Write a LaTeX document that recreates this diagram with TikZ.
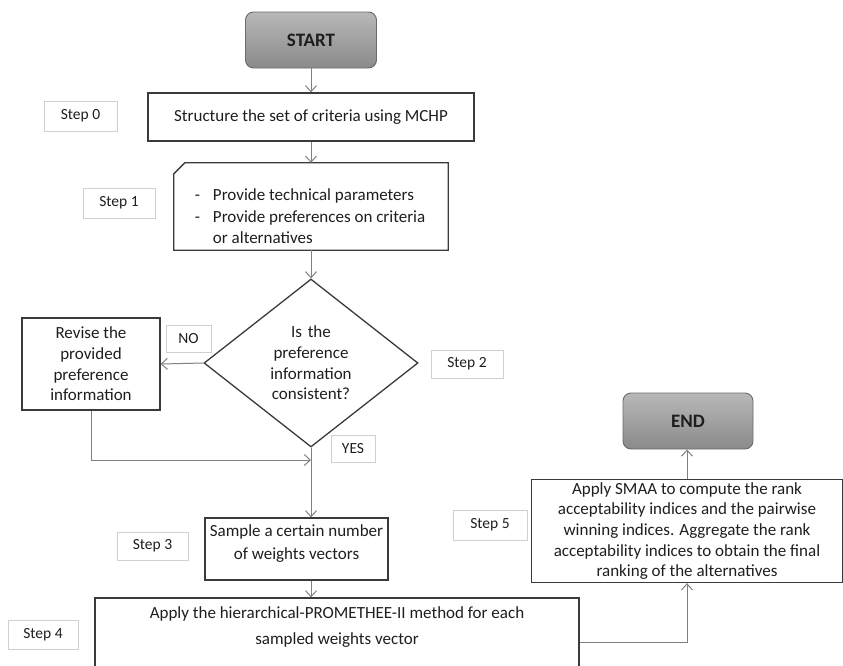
\documentclass[tikz,border=0pt]{standalone}
\usepackage{fontspec}
\setmainfont{Carlito}
\usetikzlibrary{shapes.geometric,arrows.meta}
\definecolor{boxline}{HTML}{3A3A3A}
\definecolor{arrowc}{HTML}{808080}
\definecolor{lblline}{HTML}{D0D0D0}
\definecolor{txt}{HTML}{1E1E1E}
\definecolor{termtop}{HTML}{B8B8B8}
\definecolor{termbot}{HTML}{8A8A8A}
\definecolor{termline}{HTML}{6A6A6A}
\begin{document}
\begin{tikzpicture}[x=1pt,y=-1pt,
  every node/.style={text=txt, font=\fontsize{17}{20.7}\selectfont},
  procbox/.style={draw=boxline, line width=1.3pt, rectangle, align=center, inner sep=0pt},
  outline/.style={draw=boxline, line width=1.3pt, line join=miter},
  lbl/.style={draw=lblline, line width=1pt, font=\fontsize{15.5}{19}\selectfont, inner sep=0pt},
  term/.style={draw=termline, line width=0.9pt, rounded corners=8pt, top color=termtop, bottom color=termbot, font=\fontsize{19}{23}\selectfont\bfseries, inner sep=0pt},
  flow/.style={draw=arrowc, line width=1pt, -{Straight Barb[length=6pt,width=11pt]}}]
\useasboundingbox (0,0) rectangle (843,665);

\node[term, minimum width=131pt, minimum height=56pt] (start) at (311,40) {START};
\node[procbox, minimum width=326pt, minimum height=48pt] (s0) at (311,117) {Structure the set of criteria using MCHP};
\node[lbl, minimum width=73pt, minimum height=30pt] (l0) at (80.5,116) {Step 0};

\node[rectangle, inner sep=0pt, minimum width=274pt, minimum height=87pt] (s1) at (311,206.5) {};
\draw[outline] ([yshift=-11pt]s1.north west) -- ([xshift=11pt]s1.north west) -- (s1.north east)
  -- (s1.south east) -- (s1.south west) -- cycle;
\node[align=left, inner sep=0pt, font=\fontsize{17}{21.5}\selectfont] (s1t) at (310,216.5)
  {-\hspace{13pt}Provide technical parameters\\-\hspace{13pt}Provide preferences on criteria\\\hphantom{-\hspace{13pt}}or alternatives};
\node[lbl, minimum width=72pt, minimum height=30pt] (l1) at (119,203) {Step 1};

\node[draw=boxline, line width=1.3pt, diamond, aspect=1.27, inner sep=0pt, minimum width=214pt,
      minimum height=168pt, text width=100pt, align=center] (d) at (311,363)
  {Is the\\preference\\information\\consistent?};
\node[procbox, minimum width=138pt, minimum height=92pt] (rev) at (91,364) {Revise the\\provided\\preference\\information};
\node[lbl, minimum width=45pt, minimum height=27pt] (no) at (188.5,338.5) {NO};
\node[lbl, minimum width=72pt, minimum height=28pt] (l2) at (467,364) {Step 2};
\node[lbl, minimum width=44pt, minimum height=27pt] (yes) at (353,448.5) {YES};

\node[procbox, minimum width=183pt, minimum height=62pt] (s3) at (296.5,549) {};
\node[align=center, inner sep=0pt, font=\fontsize{17}{23}\selectfont] (s3t) at (296.5,544)
  {Sample a certain number\\of weights vectors};
\node[lbl, minimum width=71pt, minimum height=28pt] (l3) at (152.5,546) {Step 3};

\node[procbox, minimum width=484pt, minimum height=88pt] (s4) at (337,642) {};
\node[align=center, inner sep=0pt, font=\fontsize{17}{26}\selectfont] (s4t) at (337,627)
  {Apply the hierarchical-PROMETHEE-II method for each\\sampled weights vector};
\node[lbl, minimum width=70pt, minimum height=29pt] (l4) at (43,634.5) {Step 4};

\node[procbox, minimum width=311pt, minimum height=103pt] (s5) at (687,531)
  {Apply SMAA to compute the rank\\acceptability indices and the pairwise\\winning indices. Aggregate the rank\\acceptability indices to obtain the final\\ranking of the alternatives};
\node[lbl, minimum width=74pt, minimum height=30pt] (l5) at (490,525) {Step 5};
\node[term, minimum width=130pt, minimum height=56pt] (end) at (688,421) {END};

\coordinate (join) at (311,460);
\draw[flow] (start) -- (s0);
\draw[flow] (s0) -- (s1);
\draw[flow] (s1) -- (d);
\draw[flow] (d.west) -- (rev.east);
\draw[flow] (rev.south) |- (join);
\draw[flow] (d.south) -- (d.south |- s3.north);
\draw[flow] (d.south |- s3.south) -- (d.south |- s4.north);
\draw[flow] (s4.east) -| (s5.south);
\draw[flow] (s5.north) -- (s5.north |- end.south);
\end{tikzpicture}
\end{document}
